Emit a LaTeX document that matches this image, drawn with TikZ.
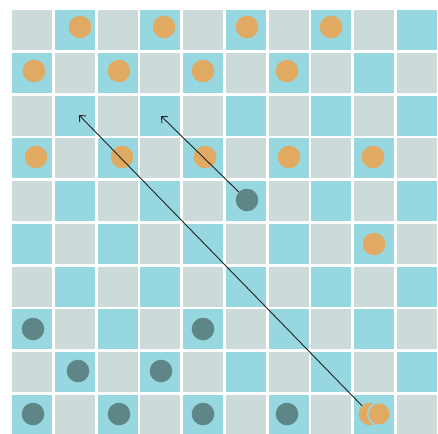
\documentclass[tikz,border=0pt]{standalone}
\usetikzlibrary{arrows.meta}
\definecolor{cellcyan}{HTML}{96D7E0}
\definecolor{cellgray}{HTML}{CCDADA}
\definecolor{pieceorange}{HTML}{E1AA62}
\definecolor{pieceteal}{HTML}{5F8686}
\definecolor{arrowc}{HTML}{222222}
\tikzset{
  cellbox/.style={inner sep=0pt, minimum size=40pt, draw=none},
  orangepiece/.style={circle, fill=pieceorange, inner sep=0pt, minimum size=22.6pt},
  tealpiece/.style={circle, fill=pieceteal, inner sep=0pt, minimum size=22.6pt},
  movearrow/.style={draw=arrowc, line width=0.9pt, -{Straight Barb[length=5pt,width=9pt]}},
}
\begin{document}
\begin{tikzpicture}[x=1pt,y=-1pt]
\useasboundingbox (0,0) rectangle (438,433);
\fill[white] (0,0) rectangle (438,433);
\foreach \r in {0,...,9}{
  \foreach \c in {0,...,9}{
    \pgfmathtruncatemacro{\odd}{mod(\r+\c,2)}
    \ifnum\odd=1
      \node[cellbox, fill=cellcyan] (cell-\r-\c) at ({32+42.78*\c},{30+42.78*\r}) {};
    \else
      \node[cellbox, fill=cellgray] (cell-\r-\c) at ({32+42.78*\c},{30+42.78*\r}) {};
    \fi
  }
}
% orange pieces
\node[orangepiece] (o01) at (80,27) {};
\node[orangepiece] (o03) at (164,27) {};
\node[orangepiece] (o05) at (247,27) {};
\node[orangepiece] (o07) at (331,27) {};
\node[orangepiece] (o10) at (34,71) {};
\node[orangepiece] (o12) at (119,71) {};
\node[orangepiece] (o14) at (203,71) {};
\node[orangepiece] (o16) at (287,71) {};
\node[orangepiece] (o30) at (36,157) {};
\node[orangepiece] (o32) at (122,157) {};
\node[orangepiece] (o34) at (205,157) {};
\node[orangepiece] (o36) at (289,157) {};
\node[orangepiece] (o38) at (373,157) {};
\node[orangepiece] (o58) at (374,244) {};
\node[orangepiece] (o98a) at (370,414) {};
\node[orangepiece, draw=cellcyan, line width=1.5pt] (o98b) at (379,414) {};
% teal pieces
\node[tealpiece] (t45) at (247,200) {};
\node[tealpiece] (t70) at (33,329) {};
\node[tealpiece] (t74) at (203,329) {};
\node[tealpiece] (t81) at (78,371) {};
\node[tealpiece] (t83) at (161,371) {};
\node[tealpiece] (t90) at (33,414) {};
\node[tealpiece] (t92) at (119,414) {};
\node[tealpiece] (t94) at (203,414) {};
\node[tealpiece] (t96) at (287,414) {};
% arrow targets
\coordinate (dest1) at (79,115);
\coordinate (dest2) at (161,116);
\draw[movearrow] (o98a) -- (dest1);
\draw[movearrow] (t45) -- (dest2);
\end{tikzpicture}
\end{document}
